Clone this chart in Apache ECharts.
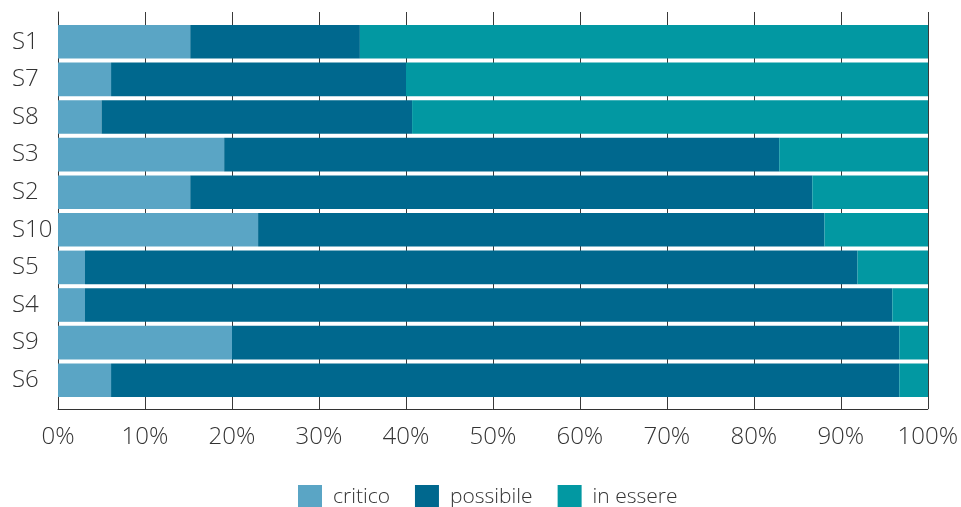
<!DOCTYPE html>
<html>
<head>
<meta charset="utf-8">
<script src="https://cdn.jsdelivr.net/npm/echarts@6/dist/echarts.min.js"></script>
<style>
  html, body { margin: 0; padding: 0; background: #fff; }
  #chart { width: 961px; height: 507px; }
</style>
</head>
<body>
<div id="chart"></div>
<script>
// Scenarios, listed top to bottom
const categories = ['S1', 'S7', 'S8', 'S3', 'S2', 'S10', 'S5', 'S4', 'S9', 'S6'];

// Share of each status per scenario (percent)
const critico   = [15.2, 6.1, 5.0, 19.1, 15.2, 23.0, 3.1, 3.1, 20.0, 6.1];
const possibile = [19.5, 33.9, 35.7, 63.8, 71.5, 65.1, 88.8, 92.8, 76.7, 90.6];
const inEssere  = [65.3, 60.0, 59.3, 17.1, 13.3, 11.9, 8.1, 4.1, 3.3, 3.3];

const seriesNames = ['critico', 'possibile', 'in essere'];
const seriesColors = ['#5aa5c5', '#00688e', '#0298a2'];
const seriesValues = [critico, possibile, inEssere];

const xTicks = [0, 10, 20, 30, 40, 50, 60, 70, 80, 90, 100];

const FONT = '"Open Sans", "Noto Sans", sans-serif';
const TEXT = '#333333';

const chart = echarts.init(document.getElementById('chart'), null, { renderer: 'canvas' });

chart.setOption({
  animation: false,
  backgroundColor: '#ffffff',
  textStyle: { fontFamily: FONT },
  grid: [
    // frame with the percentage grid lines
    { left: 58, top: 12, width: 870, height: 397, containLabel: false },
    // bars area
    { left: 58, top: 23, width: 870, height: 376, containLabel: false }
  ],
  xAxis: [
    {
      gridIndex: 0,
      type: 'value',
      min: 0,
      max: 100,
      interval: 10,
      axisLine: { show: true, lineStyle: { color: '#333', width: 1 } },
      axisTick: { show: false },
      splitLine: { show: true, lineStyle: { color: '#3a3a3a', width: 1 } },
      axisLabel: {
        margin: 16,
        fontSize: 24,
        fontWeight: 300,
        color: TEXT,
        fontFamily: FONT,
        formatter: v => (xTicks.includes(v) ? v + '%' : '')
      }
    },
    {
      gridIndex: 1,
      type: 'value',
      min: 0,
      max: 100,
      show: false
    }
  ],
  yAxis: [
    {
      gridIndex: 0,
      type: 'category',
      data: [''],
      axisLine: { show: true, lineStyle: { color: '#333', width: 1 } },
      axisTick: { show: false },
      axisLabel: { show: false },
      splitLine: { show: false }
    },
    {
      gridIndex: 1,
      type: 'category',
      data: categories,
      inverse: true,
      axisLine: { show: false },
      axisTick: { show: false },
      axisLabel: {
        margin: 46,
        align: 'left',
        fontSize: 24,
        fontWeight: 300,
        color: TEXT,
        fontFamily: FONT
      }
    }
  ],
  legend: {
    left: 293,
    top: 480,
    padding: 5,
    itemWidth: 24,
    itemHeight: 24,
    itemGap: 25,
    icon: 'rect',
    data: seriesNames,
    textStyle: {
      fontSize: 21,
      fontWeight: 300,
      color: TEXT,
      fontFamily: FONT,
      padding: [0, 0, 0, 6]
    }
  },
  series: seriesNames.map((name, i) => ({
    name: name,
    type: 'bar',
    stack: 'total',
    xAxisIndex: 1,
    yAxisIndex: 1,
    barCategoryGap: '10.6%',
    itemStyle: { color: seriesColors[i] },
    data: seriesValues[i]
  }))
});
</script>
</body>
</html>
